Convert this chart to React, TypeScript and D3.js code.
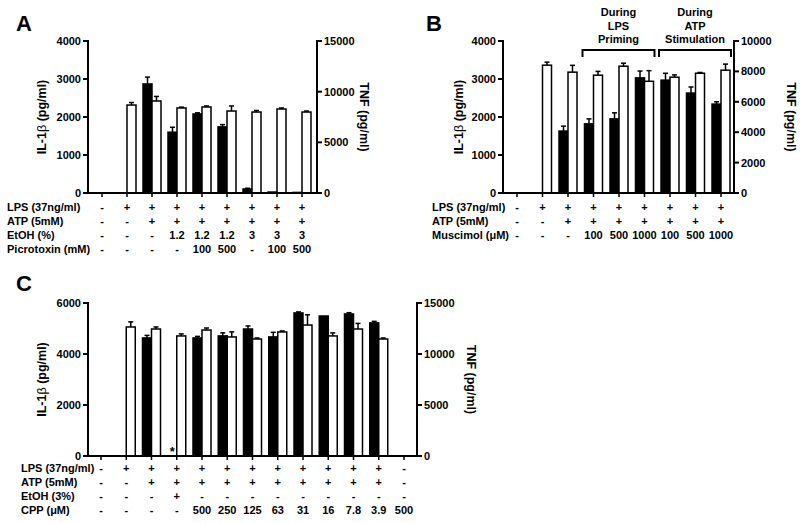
import React from "react";
import * as d3 from "d3";

// ---------- Panel A ----------
const aIL = [0, 0, 2870, 1600, 2080, 1740, 105, 25, 15];
const aILErr = [0, 0, 180, 130, 30, 60, 20, 0, 0];
const aTNF = [0, 8680, 9080, 8390, 8490, 8090, 7990, 8290, 7990];
const aTNFErr = [0, 250, 450, 80, 100, 500, 150, 100, 100];
const aRowNames = ["LPS (37ng/ml)", "ATP (5mM)", "EtOH (%)", "Picrotoxin (mM)"];
const aLPS = ["-", "+", "+", "+", "+", "+", "+", "+", "+"];
const aATP = ["-", "-", "+", "+", "+", "+", "+", "+", "+"];
const aEtOH = ["-", "-", "-", "1.2", "1.2", "1.2", "3", "3", "3"];
const aPicro = ["-", "-", "-", "-", "100", "500", "-", "100", "500"];
const aLeftTicks = [0, 1000, 2000, 3000, 4000];
const aRightTicks = [0, 5000, 10000, 15000];

// ---------- Panel B ----------
const bIL = [0, 0, 1630, 1820, 1950, 3030, 2970, 2630, 2340];
const bILErr = [0, 0, 130, 130, 160, 180, 180, 160, 60];
const bTNF = [0, 8410, 7950, 7750, 8340, 7350, 7620, 7880, 8080];
const bTNFErr = [0, 200, 450, 250, 200, 700, 150, 50, 400];
const bRowNames = ["LPS (37ng/ml)", "ATP (5mM)", "Muscimol (\u03bcM)"];
const bLPS = ["-", "+", "+", "+", "+", "+", "+", "+", "+"];
const bATP = ["-", "-", "+", "+", "+", "+", "+", "+", "+"];
const bMusc = ["-", "-", "-", "100", "500", "1000", "100", "500", "1000"];
const bLeftTicks = [0, 1000, 2000, 3000, 4000];
const bRightTicks = [0, 2000, 4000, 6000, 8000, 10000];
const bBrackets = [
  { from: 3, to: 5, lines: ["During", "LPS", "Priming"] },
  { from: 6, to: 8, lines: ["During", "ATP", "Stimulation"] },
];

// ---------- Panel C ----------
const cIL = [0, 0, 4630, 0, 4630, 4710, 4980, 4670, 5610, 5490, 5570, 5220, 0];
const cILErr = [0, 0, 100, 0, 60, 120, 120, 180, 40, 0, 50, 60, 0];
const cTNF = [0, 12650, 12450, 11770, 12350, 11670, 11470, 12160, 12840, 11770, 12450, 11470, 0];
const cTNFErr = [0, 500, 200, 200, 200, 500, 100, 100, 1000, 300, 550, 100, 0];
const cRowNames = ["LPS (37ng/ml)", "ATP (5mM)", "EtOH (3%)", "CPP (\u03bcM)"];
const cLPS = ["-", "+", "+", "+", "+", "+", "+", "+", "+", "+", "+", "+", "-"];
const cATP = ["-", "-", "+", "+", "+", "+", "+", "+", "+", "+", "+", "+", "-"];
const cEtOH = ["-", "-", "-", "+", "-", "-", "-", "-", "-", "-", "-", "-", "-"];
const cCPP = ["-", "-", "-", "-", "500", "250", "125", "63", "31", "16", "7.8", "3.9", "500"];
const cLeftTicks = [0, 2000, 4000, 6000];
const cRightTicks = [0, 5000, 10000, 15000];
const cStars = [3];

const FONT = "'Liberation Sans', Arial, sans-serif";

type PanelProps = {
  letter: string;
  letterX: number;
  letterY: number;
  axL: number;
  axR: number;
  top: number;
  base: number;
  firstX: number;
  lastX: number;
  leftTicks: number[];
  rightTicks: number[];
  il: number[];
  ilErr: number[];
  tnf: number[];
  tnfErr: number[];
  rowNames: string[];
  rows: string[][];
  rowX: number;
  rowY0: number;
  rowStep: number;
  leftTitleX: number;
  rightTitleX: number;
  brackets?: { from: number; to: number; lines: string[] }[];
  stars?: number[];
};

function Panel(p: PanelProps) {
  const n = p.il.length;
  const x = d3.scalePoint<number>().domain(d3.range(n)).range([p.firstX, p.lastX]);
  const yL = d3
    .scaleLinear()
    .domain([0, p.leftTicks[p.leftTicks.length - 1]])
    .range([p.base, p.top]);
  const yR = d3
    .scaleLinear()
    .domain([0, p.rightTicks[p.rightTicks.length - 1]])
    .range([p.base, p.top]);
  const bw = 9;
  const cap = 2.5;
  const midY = (p.base + p.top) / 2;
  const items: JSX.Element[] = [];
  for (let i = 0; i < n; i++) {
    const cx = x(i)!;
    if (p.il[i] > 0) {
      const yt = yL(p.il[i]);
      items.push(
        <rect key={"b" + i} x={cx - bw} y={yt} width={bw} height={p.base - yt} fill="#000" stroke="#000" strokeWidth={1.5} />
      );
      if (p.ilErr[i] > 0) {
        const ye = yL(p.il[i] + p.ilErr[i]);
        items.push(
          <g key={"be" + i} stroke="#000" strokeWidth={1.5}>
            <line x1={cx - bw / 2} x2={cx - bw / 2} y1={yt} y2={ye} />
            <line x1={cx - bw / 2 - cap} x2={cx - bw / 2 + cap} y1={ye} y2={ye} />
          </g>
        );
      }
    }
    if (p.tnf[i] > 0) {
      const yt = yR(p.tnf[i]);
      if (p.tnfErr[i] > 0) {
        const ye = yR(p.tnf[i] + p.tnfErr[i]);
        items.push(
          <g key={"we" + i} stroke="#000" strokeWidth={1.5}>
            <line x1={cx + bw / 2} x2={cx + bw / 2} y1={yt} y2={ye} />
            <line x1={cx + bw / 2 - cap} x2={cx + bw / 2 + cap} y1={ye} y2={ye} />
          </g>
        );
      }
      items.push(
        <rect key={"w" + i} x={cx} y={yt} width={bw} height={p.base - yt} fill="#fff" stroke="#000" strokeWidth={1.5} />
      );
    }
  }
  return (
    <g fontFamily={FONT} fontWeight="bold">
      <text x={p.letterX} y={p.letterY} fontSize={22}>{p.letter}</text>
      {items}
      {/* baseline */}
      <line x1={p.axL} x2={p.axR} y1={p.base} y2={p.base} stroke="#000" strokeWidth={2} />
      {/* category ticks */}
      {d3.range(n).map((i) => (
        <line key={"t" + i} x1={x(i)} x2={x(i)} y1={p.base} y2={p.base + 4} stroke="#000" strokeWidth={1.5} />
      ))}
      {/* left axis */}
      <line x1={p.axL} x2={p.axL} y1={p.top - 1} y2={p.base + 1} stroke="#000" strokeWidth={2} />
      {p.leftTicks.map((t) => (
        <g key={"lt" + t}>
          <line x1={p.axL - 5} x2={p.axL} y1={yL(t)} y2={yL(t)} stroke="#000" strokeWidth={2} />
          <text x={p.axL - 7} y={yL(t) + 4} fontSize={11} textAnchor="end">{t}</text>
        </g>
      ))}
      {/* right axis */}
      <line x1={p.axR} x2={p.axR} y1={p.top - 1} y2={p.base + 1} stroke="#000" strokeWidth={2} />
      {p.rightTicks.map((t) => (
        <g key={"rt" + t}>
          <line x1={p.axR} x2={p.axR + 5} y1={yR(t)} y2={yR(t)} stroke="#000" strokeWidth={2} />
          <text x={p.axR + 7} y={yR(t) + 4} fontSize={11} textAnchor="start">{t}</text>
        </g>
      ))}
      {/* axis titles */}
      <text
        transform={`translate(${p.leftTitleX},${midY}) rotate(-90)`}
        fontSize={12.5}
        textAnchor="middle"
        dominantBaseline="middle"
      >
        IL-1<tspan fontWeight="normal">{"\u03b2"}</tspan> (pg/ml)
      </text>
      <text
        transform={`translate(${p.rightTitleX},${midY}) rotate(90)`}
        fontSize={12.5}
        textAnchor="middle"
        dominantBaseline="middle"
      >
        TNF (pg/ml)
      </text>
      {/* condition rows */}
      {p.rowNames.map((name, r) => (
        <g key={"row" + r}>
          <text x={p.rowX} y={p.rowY0 + r * p.rowStep} fontSize={11}>{name}</text>
          {p.rows[r].map((v, i) => (
            <text key={i} x={x(i)} y={p.rowY0 + r * p.rowStep} fontSize={11} textAnchor="middle">{v}</text>
          ))}
        </g>
      ))}
      {(p.stars || []).map((i) => (
        <text key={"s" + i} x={x(i)! - bw / 2} y={p.base} fontSize={13} textAnchor="middle">*</text>
      ))}
      {(p.brackets || []).map((b, k) => {
        const x1 = x(b.from)! - bw - 2;
        const x2 = x(b.to)! + bw + 1;
        const by = 50;
        return (
          <g key={"br" + k}>
            <path d={`M${x1},${by + 7}V${by}H${x2}V${by + 7}`} fill="none" stroke="#000" strokeWidth={2} />
            {b.lines.map((l, j) => (
              <text key={j} x={(x1 + x2) / 2} y={16 + j * 13.5} fontSize={11} textAnchor="middle">{l}</text>
            ))}
          </g>
        );
      })}
    </g>
  );
}

export default function App() {
  return (
    <svg width={800} height={523} style={{ position: "absolute", left: 0, top: 0, background: "#fff" }}>
      <rect width={800} height={523} fill="#fff" />
      <Panel
        letter="A" letterX={16} letterY={31}
        axL={88} axR={317} top={41} base={193} firstX={102} lastX={302}
        leftTicks={aLeftTicks} rightTicks={aRightTicks}
        il={aIL} ilErr={aILErr} tnf={aTNF} tnfErr={aTNFErr}
        rowNames={aRowNames} rows={[aLPS, aATP, aEtOH, aPicro]}
        rowX={7} rowY0={211} rowStep={14}
        leftTitleX={43} rightTitleX={363}
      />
      <Panel
        letter="B" letterX={426} letterY={31}
        axL={503} axR={734} top={41} base={193} firstX={517} lastX={721}
        leftTicks={bLeftTicks} rightTicks={bRightTicks}
        il={bIL} ilErr={bILErr} tnf={bTNF} tnfErr={bTNFErr}
        rowNames={bRowNames} rows={[bLPS, bATP, bMusc]}
        rowX={432} rowY0={211} rowStep={14}
        leftTitleX={460} rightTitleX={790}
        brackets={bBrackets}
      />
      <Panel
        letter="C" letterX={16} letterY={291}
        axL={88} axR={417} top={303} base={456} firstX={101} lastX={404}
        leftTicks={cLeftTicks} rightTicks={cRightTicks}
        il={cIL} ilErr={cILErr} tnf={cTNF} tnfErr={cTNFErr}
        rowNames={cRowNames} rows={[cLPS, cATP, cEtOH, cCPP]}
        rowX={21} rowY0={472} rowStep={14}
        leftTitleX={43} rightTitleX={470}
        stars={cStars}
      />
    </svg>
  );
}
